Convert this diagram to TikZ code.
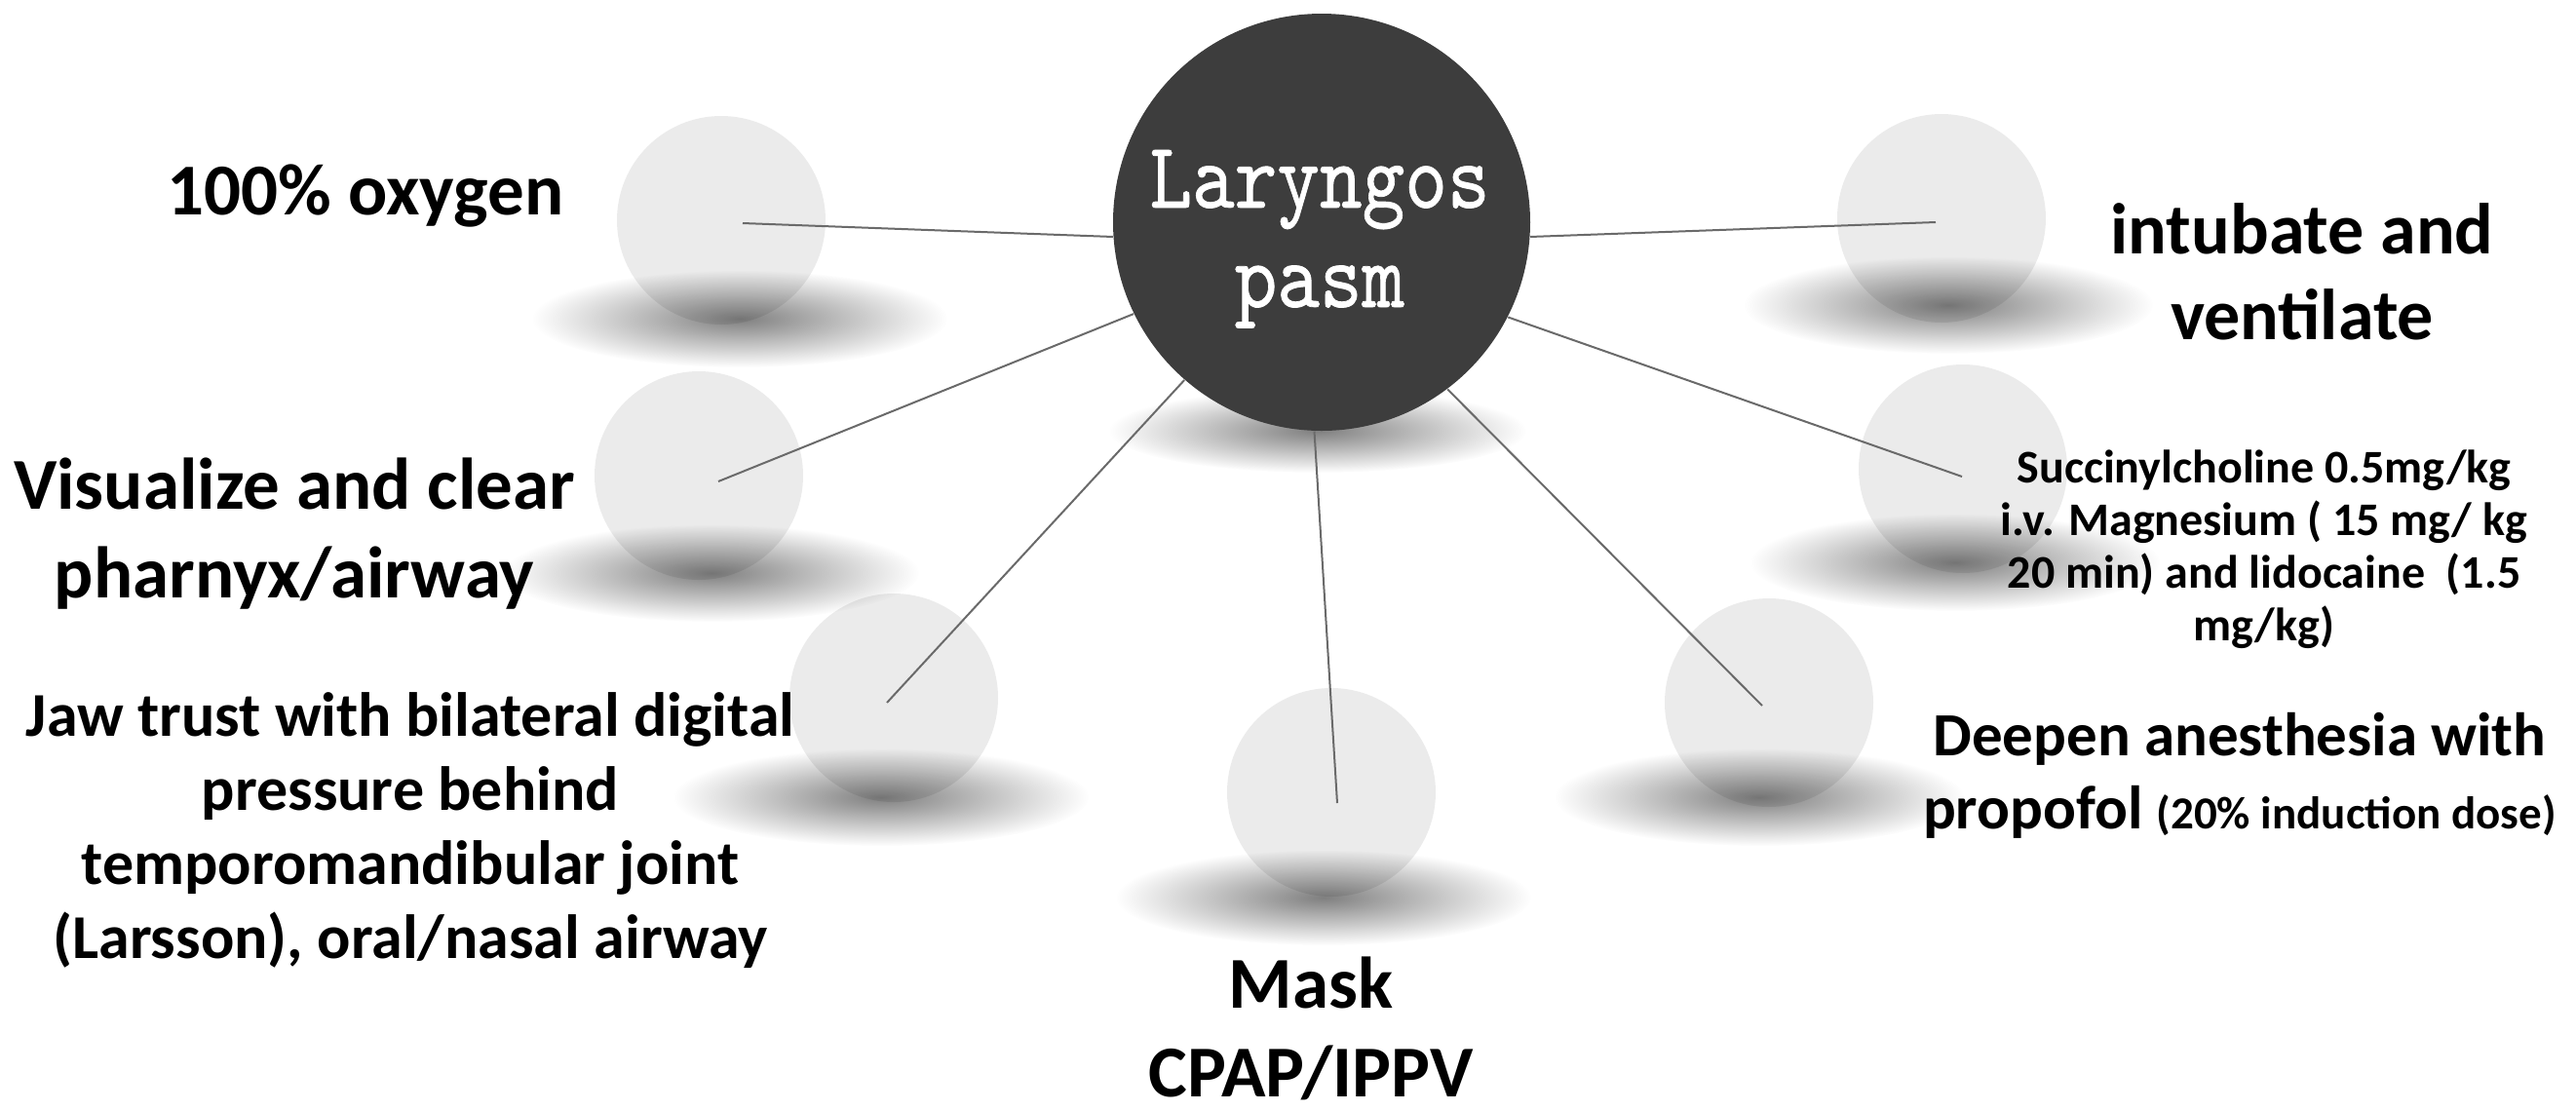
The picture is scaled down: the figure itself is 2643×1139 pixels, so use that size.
\documentclass[tikz,border=0pt]{standalone}
\usepackage{fontspec}
\setmainfont{Carlito}
\newfontfamily\hubfont{lmmono10-regular.otf}[FakeBold=0.8]
\usetikzlibrary{fadings}

\definecolor{ball}{HTML}{EBEBEB}
\definecolor{hubfill}{HTML}{3D3D3D}
\definecolor{spoke}{HTML}{6A6A6A}

% soft drop shadow: half-opaque core fading out to the rim
\tikzfading[name=softshadow, inner color=transparent!50, outer color=transparent!100]

% slightly condensed typewriter lettering for the hub title
\newcommand\narrowtt[1]{\scalebox{0.86}[1]{#1}}

\begin{document}
\begin{tikzpicture}[x=0.3pt, y=-0.3pt,
  ballnode/.style={circle, fill=ball, inner sep=0pt, minimum size=64.2pt},
  hubnode/.style={circle, fill=hubfill, inner sep=0pt, minimum size=128.4pt},
  shadowfill/.style={black, path fading=softshadow},
  spokeline/.style={draw=spoke, line width=0.6pt},
  lbl/.style={inner sep=0pt, anchor=base, align=center, text=black},
  bigtxt/.style={lbl, font=\fontsize{22.5}{27.3}\selectfont\bfseries},
]
\useasboundingbox (0,0) rectangle (2643,1139);

% satellite balls
\node[ballnode] (bA) at (740,226) {};
\node[ballnode] (bB) at (717,488) {};
\node[ballnode] (bC) at (917,716) {};
\node[ballnode] (bD) at (1366,813) {};
\node[ballnode] (bE) at (1815,721) {};
\node[ballnode] (bF) at (2014,481) {};
\node[ballnode] (bG) at (1992,224) {};

% shadows lying over the lower part of each ball
\fill[shadowfill] (759,327) ellipse [x radius=213, y radius=50];
\fill[shadowfill] (730,588) ellipse [x radius=213, y radius=50];
\fill[shadowfill] (904,818) ellipse [x radius=213, y radius=50];
\fill[shadowfill] (1358,921) ellipse [x radius=213, y radius=49];
\fill[shadowfill] (1805,818) ellipse [x radius=210, y radius=50];
\fill[shadowfill] (2006,577) ellipse [x radius=210, y radius=50];
\fill[shadowfill] (1999,313) ellipse [x radius=210, y radius=50];

% hub with its own shadow
\fill[shadowfill] (1352,442) ellipse [x radius=214, y radius=43];
\node[hubnode] (hub) at (1356,228) {};
\node[inner sep=0pt, anchor=base, align=center, text=white,
      font=\fontsize{29}{30.6}\selectfont\hubfont] (title) at (1354,315)
      {\narrowtt{Laryngos}\\\narrowtt{pasm}};

% spoke ends inside the balls
\coordinate (eA) at (762,229);
\coordinate (eB) at (737,494);
\coordinate (eC) at (910,721);
\coordinate (eD) at (1372,824);
\coordinate (eE) at (1808,724);
\coordinate (eF) at (2013,489);
\coordinate (eG) at (1986,228);

\draw[spokeline] (eA) -- (hub.184);
\draw[spokeline] (eB) -- (hub.206.4);
\draw[spokeline] (eC) -- (hub.229.5);
\draw[spokeline] (eD) -- (hub.268.4);
\draw[spokeline] (eE) -- (hub.307);
\draw[spokeline] (eF) -- (hub.333.3);
\draw[spokeline] (eG) -- (hub.356);

% labels (anchored at the baseline of their last line)
\node[bigtxt] (tA) at (375,220) {100\% oxygen};
\node[bigtxt] (tB) at (302,613) {Visualize and clear\\pharnyx/airway};
\node[lbl, font=\fontsize{19.2}{22.8}\selectfont\bfseries] (tC) at (421,983)
  {Jaw trust with bilateral digital\\pressure behind\\temporomandibular joint\\(Larsson), oral/nasal airway};
\node[bigtxt] (tD) at (1345,1125) {Mask\\CPAP/IPPV};
\node[lbl, font=\fontsize{18.9}{22.5}\selectfont\bfseries] (tE) at (2298,850)
  {Deepen anesthesia with\\propofol {\fontsize{14.1}{16}\selectfont (20\% induction dose)}};
\node[lbl, font=\fontsize{14.4}{16.2}\selectfont\bfseries] (tF) at (2323,657)
  {Succinylcholine 0.5mg/kg\\i.v. Magnesium ( 15 mg/ kg\\20 min) and lidocaine\ \ (1.5\\mg/kg)};
\node[lbl, font=\fontsize{22.2}{26.4}\selectfont\bfseries] (tG) at (2362,348)
  {intubate and\\ventilate};
\end{tikzpicture}
\end{document}
